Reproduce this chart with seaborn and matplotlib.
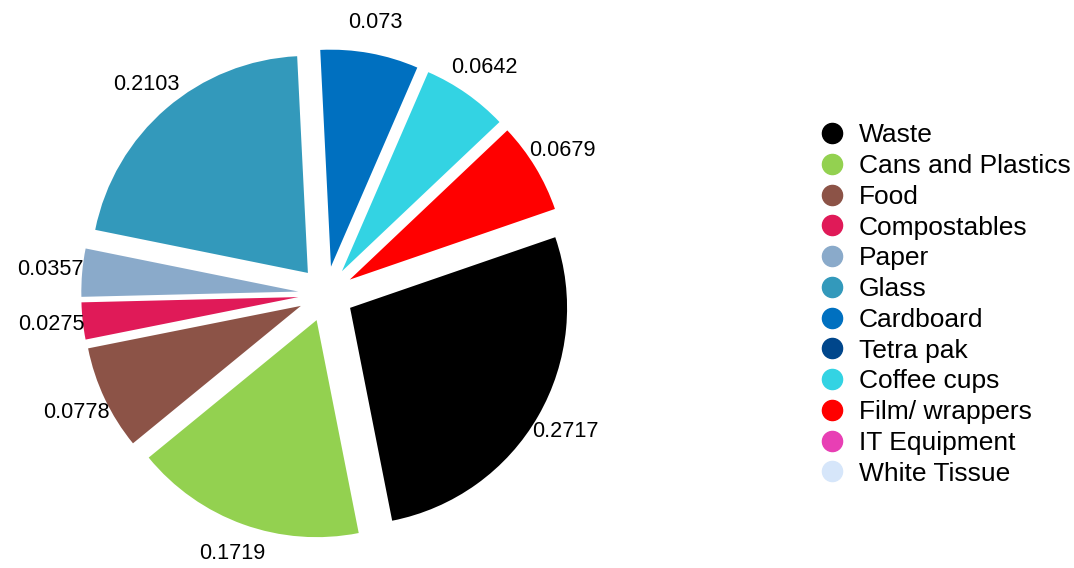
import numpy as np
import matplotlib
matplotlib.use("Agg")
import matplotlib.pyplot as plt
from matplotlib.lines import Line2D
import seaborn as sns

categories = ["Waste", "Cans and Plastics", "Food", "Compostables", "Paper", "Glass",
              "Cardboard", "Tetra pak", "Coffee cups", "Film/ wrappers", "IT Equipment",
              "White Tissue"]
values = [0.2717, 0.1719, 0.0778, 0.0275, 0.0357, 0.2103, 0.073, 0.0, 0.0642, 0.0679, 0.0, 0.0]
colors = ["#000000", "#93d150", "#8c5347", "#e01a58", "#8aaaca", "#3399bb", "#0070c0",
          "#00468b", "#33d3e3", "#ff0000", "#e83fb4", "#d6e6fa"]

sns.set_theme(style="white")
plt.rcParams["font.family"] = ["Liberation Sans", "DejaVu Sans"]

W, H = 1074, 568
fig = plt.figure(figsize=(W / 100, H / 100), dpi=100)
R = 217.0
cx, cy = 326.0, 294.0
axw, axh = 600.0, 552.0
ax = fig.add_axes([(cx - axw / 2) / W, (H - cy - axh / 2) / H, axw / W, axh / H])
ax.set_aspect("equal")
ax.axis("off")

idx = [i for i, v in enumerate(values) if v > 0]
vals = [values[i] for i in idx]
cols = [colors[i] for i in idx]
expl = 0.128
wedges, _ = ax.pie(vals, colors=cols, startangle=19, counterclock=False,
                   explode=[expl] * len(vals), radius=1.0, normalize=True,
                   wedgeprops=dict(linewidth=0))
ax.set_xlim(-axw / 2 / R, axw / 2 / R)
ax.set_ylim(-axh / 2 / R, axh / 2 / R)

for w, v in zip(wedges, vals):
    mid = np.deg2rad((w.theta1 + w.theta2) / 2)
    c = w.center
    d = 1.145
    ax.text(c[0] + d * np.cos(mid), c[1] + d * np.sin(mid), f"{v:g}",
            ha="center", va="center", fontsize=15.6, color="black")

handles = [Line2D([], [], marker="o", linestyle="none", markersize=14.5,
                  markerfacecolor=c, markeredgecolor=c) for c in colors]
fig.legend(handles, categories, loc="upper left",
           bbox_to_anchor=(816 / W, 1 - 123.5 / H), frameon=False,
           fontsize=19, labelspacing=0.255, handletextpad=0.43,
           borderpad=0, borderaxespad=0, handlelength=1.2, labelcolor="black")

fig.savefig("out.png", dpi=100, facecolor="white")
